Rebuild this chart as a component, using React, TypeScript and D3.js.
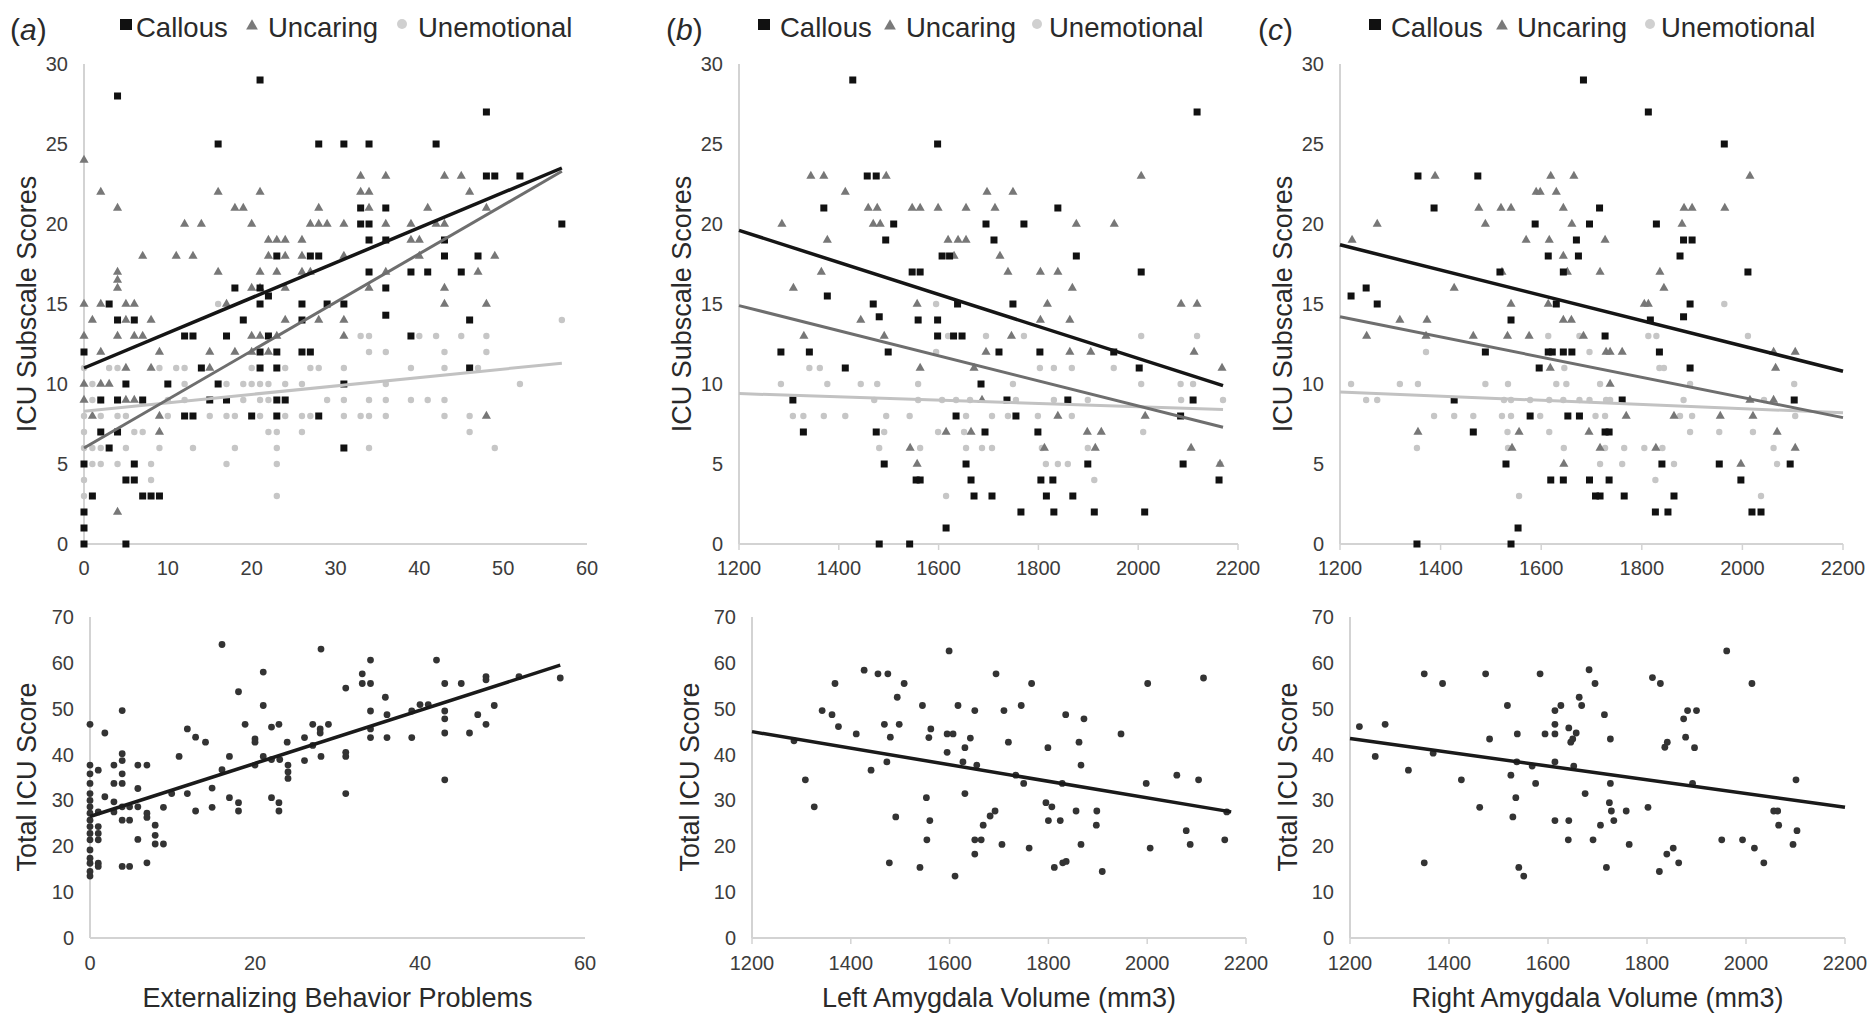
import * as d3 from 'd3';

const W = 1872;
const H = 1030;
const FONT = '"Liberation Sans", Arial, Helvetica, sans-serif';

type Pt = [number, number];

// tick labels
const extTicksTop = [0, 10, 20, 30, 40, 50, 60];
const extTicksBottom = [0, 20, 40, 60];
const volTicks = [1200, 1400, 1600, 1800, 2000, 2200];
const subscaleTicks = [0, 5, 10, 15, 20, 25, 30];
const totalTicks = [0, 10, 20, 30, 40, 50, 60, 70];

const seriesNames = ['Callous', 'Uncaring', 'Unemotional'];

// (a) externalizing vs subscales
const extCallous: Pt[] = [
  [4, 28], [21, 29], [48, 27], [16, 25], [28, 25], [31, 25], [34, 25], [42, 25], [48, 23], [49, 23],
  [52, 23], [57, 20], [33, 21], [36, 21], [33, 20], [34, 20], [34, 19], [36, 19], [43, 19], [43, 18],
  [47, 18], [23, 18], [27, 18], [28, 18], [34, 17], [39, 17], [41, 17], [45, 17], [18, 16], [21, 16],
  [36, 16], [22, 15.5], [3, 15], [21, 15], [26, 15], [29, 15], [31, 15], [4, 14], [6, 14], [19, 14],
  [26, 14], [36, 14.3], [46, 14], [12, 13], [13, 13], [17, 13], [22, 13], [39, 13], [0, 12], [21, 12],
  [23, 12], [26, 12], [27, 12], [14, 11], [21, 11], [23, 11], [46, 11], [5, 10], [10, 10], [16, 10],
  [31, 10], [2, 9], [4, 9], [7, 9], [15, 9], [17, 9], [23, 9], [24, 9], [12, 8], [13, 8], [20, 8],
  [23, 8], [28, 8], [2, 7], [4, 7], [3, 6], [31, 6], [0, 5], [6, 5], [5, 4], [6, 4], [1, 3], [7, 3],
  [8, 3], [9, 3], [0, 2], [0, 1], [0, 0], [5, 0],
];
const extUncaring: Pt[] = [
  [0, 24], [2, 22], [16, 22], [21, 22], [46, 22], [33, 23], [36, 23], [43, 23], [45, 23], [33, 22],
  [34, 22], [4, 21], [18, 21], [19, 21], [28, 21], [34, 21], [41, 21], [48, 21], [12, 20], [14, 20],
  [20, 20], [27, 20], [28, 20], [29, 20], [31, 20], [36, 20], [39, 20], [42, 20], [43, 20], [22, 19],
  [23, 19], [24, 19], [26, 19], [39, 19], [40, 19], [7, 18], [11, 18], [13, 18], [22, 18], [24, 18],
  [26, 18], [31, 18], [40, 18], [49, 18], [16, 17], [21, 17], [23, 17], [26, 17], [27, 17], [36, 17],
  [47, 17], [4, 17], [4, 16.5], [4, 16], [20, 16], [21, 16], [24, 16], [34, 16], [43, 16], [0, 15],
  [2, 15], [5, 15], [6, 15], [17, 15], [43, 15], [48, 15], [1, 14], [5, 14], [8, 14], [24, 14], [28, 14],
  [31, 14], [0, 13], [4, 13], [6, 13], [7, 13], [20, 13], [21, 13], [23, 13], [31, 13], [2, 12], [9, 12],
  [15, 12], [18, 12], [20, 12], [22, 12], [5, 11], [8, 11], [15, 11], [0, 10], [2, 10], [3, 10], [5, 9],
  [6, 9], [0, 9], [1, 8], [9, 8], [48, 8], [9, 7], [4, 2],
];
const extUnemotional: Pt[] = [
  [57, 14], [16, 15], [33, 13], [34, 13], [40, 13], [42, 13], [45, 13], [48, 13], [34, 12], [36, 12],
  [43, 12], [48, 12], [9, 11], [11, 11], [12, 11], [20, 11], [24, 11], [27, 11], [28, 11], [31, 11],
  [39, 11], [43, 11], [47, 11], [0, 11], [3, 11], [4, 11], [1, 10], [12, 10], [17, 10], [19, 10],
  [20, 10], [21, 10], [22, 10], [24, 10], [26, 10], [36, 10], [52, 10], [10, 9], [12, 9], [19, 9],
  [21, 9], [22, 9], [29, 9], [31, 9], [34, 9], [36, 9], [39, 9], [41, 9], [43, 9], [1, 9], [2, 9],
  [0, 8], [2, 8], [4, 8], [5, 8], [10, 8], [15, 8], [17, 8], [18, 8], [21, 8], [24, 8], [26, 8], [27, 8],
  [31, 8], [33, 8], [34, 8], [36, 8], [43, 8], [46, 8], [0, 7], [6, 7], [7, 7], [22, 7], [23, 7], [26, 7],
  [46, 7], [0, 6], [1, 6], [2, 6], [5, 6], [9, 6], [13, 6], [18, 6], [23, 6], [34, 6], [49, 6], [1, 5],
  [2, 5], [4, 5], [8, 5], [17, 5], [23, 5], [0, 4], [8, 4], [0, 3], [23, 3],
];
const extTotal: Pt[] = [
  [16, 64], [28, 63], [21, 58], [34, 60.6], [42, 60.6], [33, 57.6], [33, 55.5], [34, 55.5], [43, 55.5],
  [45, 55.5], [48, 57], [48, 56.3], [52, 57], [57, 56.7], [18, 53.7], [31, 54.5], [21, 50.7], [35.8, 52.5],
  [34, 49.5], [36, 48.7], [39, 49.5], [40, 50.9], [41, 50.9], [43, 49.5], [43, 47.8], [47, 48.7], [49, 50.7],
  [48, 46.6], [46, 44.7], [43, 44.7], [34, 45.6], [34, 43.7], [36, 43.7], [39, 43.7], [43, 34.5], [0, 46.6],
  [3.9, 49.6], [1.8, 44.7], [11.8, 45.6], [12.8, 43.8], [14, 42.7], [18.8, 46.6], [20, 43.4], [20, 42.7],
  [22, 46], [22.9, 46.6], [23.9, 42.7], [27, 46.6], [27.9, 45.6], [27.9, 44.7], [28.9, 46.6], [26, 43.7],
  [27, 42], [10.8, 39.6], [16.9, 39.6], [20, 37.7], [21, 39.6], [22, 38.9], [23, 38.9], [24, 37.7],
  [24, 36.2], [24, 34.8], [26, 38.7], [28, 39.6], [31, 40.5], [31, 39.6], [16, 36.7], [14.8, 32.7],
  [11.8, 31.5], [9.9, 31.5], [31, 31.5], [0, 37.7], [0, 35.8], [0, 33.7], [1, 36.6], [2.9, 37.7],
  [3.9, 40.2], [3.9, 38.7], [3.9, 35.8], [2.9, 33.7], [3.9, 33.7], [5.8, 37.7], [6.9, 37.7], [5.8, 32.6],
  [1.8, 30.8], [0, 31.5], [0, 30], [0, 28.6], [2.9, 29.7], [3.9, 28.6], [1, 27.5], [2.9, 27.5], [4.8, 28.6],
  [5.8, 28.6], [3.9, 25.7], [4.8, 25.7], [6.9, 27.2], [6.9, 26.3], [8.9, 28.5], [12.8, 27.7], [14.8, 28.5],
  [16.9, 30.6], [18, 29.5], [18, 27.7], [22, 30.6], [22.9, 29.5], [22.9, 27.7], [7.9, 24.6], [7.9, 22.4],
  [8.9, 20.5], [7.9, 20.5], [5.8, 21.5], [0, 25.7], [0, 24.3], [0, 22.8], [0, 21.4], [0, 19.2], [0, 17.4],
  [1, 24.3], [1, 22.8], [1, 21.4], [0, 16.3], [1, 16.3], [1, 15.6], [0, 14.5], [0, 13.5], [3.9, 15.6],
  [4.8, 15.6], [6.9, 16.4], [0, 27.2],
];

// (b) left amygdala
const leftCallous: Pt[] = [
  [1428, 29], [2118, 27], [1598, 25], [1457, 23], [1475, 23], [1370, 21], [1839, 21], [1510, 20], [1695, 20],
  [1771, 20], [1494, 19], [1711, 19], [1607, 18], [1622, 18], [1876, 18], [1547, 17], [1563, 17], [2006, 17],
  [1377, 15.5], [1469, 15], [1638, 15], [1749, 15], [1481, 14.2], [1559, 14], [1598, 14], [1598, 13],
  [1630, 13], [1647, 13], [1284, 12], [1341, 12], [1499, 12], [1721, 12], [1803, 12], [1951, 12], [1413, 11],
  [2002, 11], [1685, 10], [1308, 9], [1737, 9], [1859, 9], [2110, 9], [1635, 8], [1755, 8], [2085, 8],
  [1329, 7], [1475, 7], [1693, 7], [1799, 7], [1491, 5], [1655, 5], [1899, 5], [2090, 5], [1555, 4],
  [1563, 4], [1665, 4], [1805, 4], [1829, 4], [2162, 4], [1671, 3], [1707, 3], [1816, 3], [1869, 3],
  [1765, 2], [1831, 2], [1912, 2], [2013, 2], [1615, 1], [1481, 0], [1542, 0],
];
const leftUncaring: Pt[] = [
  [1344, 23], [1370, 23], [1495, 23], [2006, 23], [1413, 22], [1697, 22], [1749, 22], [1459, 21], [1477, 21],
  [1547, 21], [1563, 21], [1599, 21], [1655, 21], [1713, 21], [1286, 20], [1469, 20], [1483, 20], [1876, 20],
  [1952, 20], [1377, 19], [1619, 19], [1639, 19], [1655, 19], [1631, 18], [1723, 18], [1365, 17], [1739, 17],
  [1804, 17], [1839, 17], [1309, 16], [1868, 16], [1557, 15], [1818, 15], [2086, 15], [2118, 15], [1444, 14],
  [1804, 14], [1863, 14], [1330, 13], [1491, 13], [1746, 13], [1695, 12], [1863, 12], [1905, 12], [2112, 12],
  [1563, 11], [1671, 11], [2168, 11], [1687, 9], [1839, 8], [2014, 8], [1615, 7], [1665, 7], [1898, 7],
  [1926, 7], [1543, 6], [1812, 6], [1914, 6], [2106, 6], [1557, 5], [2164, 5],
];
const leftUnemotional: Pt[] = [
  [2006, 13], [2118, 13], [1595, 15], [1695, 13], [1771, 13], [1619, 13], [1595, 12], [1341, 11], [1362, 11],
  [1803, 11], [1831, 11], [1867, 11], [1951, 11], [1284, 10], [1377, 10], [1444, 10], [1477, 10], [1559, 10],
  [1749, 10], [2006, 10], [2085, 10], [2110, 10], [1471, 9], [1559, 9], [1607, 9], [1635, 9], [1663, 9],
  [1755, 9], [1831, 9], [1899, 9], [2086, 9], [2170, 9], [1308, 8], [1329, 8], [1370, 8], [1413, 8],
  [1495, 8], [1542, 8], [1655, 8], [1707, 8], [1739, 8], [1799, 8], [1867, 8], [1491, 7], [1599, 7],
  [1651, 7], [2010, 7], [1481, 6], [1563, 6], [1655, 6], [1687, 6], [1707, 6], [1807, 6], [1899, 6],
  [1815, 5], [1839, 5], [1859, 5], [2164, 5], [1912, 4], [1615, 3],
];
const leftTotal: Pt[] = [
  [1599, 62.6], [1427, 58.4], [1455, 57.6], [1475, 57.6], [1694, 57.6], [1368, 55.5], [1508, 55.5],
  [1766, 55.5], [2001, 55.5], [2114, 56.7], [1494, 52.5], [1545, 50.7], [1617, 50.7], [1745, 50.7],
  [1342, 49.6], [1362, 48.7], [1651, 49.6], [1710, 49.6], [1835, 48.7], [1872, 47.8], [1375, 46.1],
  [1468, 46.6], [1498, 46.6], [1562, 45.6], [1411, 44.5], [1595, 44.5], [1607, 44.5], [1947, 44.5],
  [1480, 43.8], [1558, 43.7], [1642, 43.6], [1719, 42.7], [1862, 42.7], [1285, 43], [1631, 41.5],
  [1799, 41.5], [1595, 40.5], [1473, 38.4], [1627, 38.4], [1655, 37.7], [1866, 37.7], [1441, 36.6],
  [1734, 35.5], [2060, 35.5], [2104, 34.5], [1308, 34.5], [1750, 33.7], [1828, 33.7], [1998, 33.7],
  [1631, 31.5], [1326, 28.6], [1553, 30.6], [1795, 29.5], [1807, 28.6], [1692, 27.7], [1682, 26.6],
  [1856, 27.7], [1898, 27.7], [1491, 26.4], [1560, 25.6], [1800, 25.6], [1824, 25.6], [1668, 24.6],
  [1897, 24.6], [2079, 23.4], [1554, 21.4], [1651, 21.4], [1664, 21.4], [2157, 21.4], [1706, 20.4],
  [1866, 20.4], [2087, 20.4], [1761, 19.6], [2006, 19.6], [1651, 18.3], [1478, 16.4], [1829, 16.4],
  [1836, 16.7], [1540, 15.4], [1812, 15.4], [1909, 14.5], [1611, 13.5], [2161, 27.5],
];

// (c) right amygdala
const rightCallous: Pt[] = [
  [1684, 29], [1813, 27], [1964, 25], [1355, 23], [1474, 23], [1387, 21], [1716, 21], [1588, 20], [1696, 20],
  [1829, 20], [1670, 19], [1883, 19], [1900, 19], [1614, 18], [1674, 18], [1876, 18], [1518, 17], [1644, 17],
  [2011, 17], [1252, 16], [1222, 15.5], [1274, 15], [1630, 15], [1896, 15], [1540, 14], [1817, 14],
  [1883, 14.2], [1727, 13], [1489, 12], [1614, 12], [1622, 12], [1644, 12], [1661, 12], [1835, 12],
  [1596, 11], [1896, 11], [1427, 9], [1761, 9], [2103, 9], [1578, 8], [1653, 8], [1676, 8], [1465, 7],
  [1727, 7], [1735, 7], [1530, 5], [1840, 5], [1954, 5], [2095, 5], [1619, 4], [1644, 4], [1696, 4],
  [1735, 4], [1997, 4], [1708, 3], [1717, 3], [1765, 3], [1864, 3], [1827, 2], [1852, 2], [2019, 2],
  [2037, 2], [1554, 1], [1353, 0], [1540, 0],
];
const rightUncaring: Pt[] = [
  [1389, 23], [1619, 23], [1665, 23], [2015, 23], [1590, 22], [1598, 22], [1630, 22], [1476, 21], [1520, 21],
  [1540, 21], [1644, 21], [1884, 21], [1900, 21], [1965, 21], [1274, 20], [1489, 20], [1661, 20], [1880, 20],
  [1224, 19], [1570, 19], [1616, 19], [1727, 19], [1644, 18], [1522, 17], [1652, 17], [1717, 17], [1836, 17],
  [1427, 16], [1844, 16], [1540, 15], [1614, 15], [1805, 15], [1813, 15], [1319, 14], [1373, 14], [1644, 14],
  [1660, 14], [1253, 13], [1371, 13], [1465, 13], [1533, 13], [1576, 13], [1684, 13], [1729, 12], [1737, 12],
  [1761, 12], [2062, 12], [2105, 12], [1618, 11], [2066, 11], [1737, 10], [2015, 9], [2062, 9], [1769, 8],
  [1864, 8], [1956, 8], [2021, 8], [1355, 7], [1556, 7], [1695, 7], [2069, 7], [1542, 6], [1717, 6],
  [1828, 6], [2105, 6], [1645, 5], [1997, 5],
];
const rightUnemotional: Pt[] = [
  [1964, 15], [1813, 13], [1829, 13], [2011, 13], [1614, 13], [1676, 13], [1371, 12], [1696, 12], [1646, 11],
  [1835, 11], [1844, 11], [1222, 10], [1319, 10], [1355, 10], [1489, 10], [1534, 10], [1630, 10], [1650, 10],
  [1717, 10], [1896, 10], [2103, 10], [1252, 9], [1274, 9], [1526, 9], [1540, 9], [1578, 9], [1616, 9],
  [1644, 9], [1676, 9], [1696, 9], [1729, 9], [1737, 9], [1883, 9], [2043, 9], [1387, 8], [1427, 8],
  [1465, 8], [1522, 8], [1540, 8], [1598, 8], [1708, 8], [1727, 8], [1876, 8], [1900, 8], [2105, 8],
  [1533, 7], [1616, 7], [1896, 7], [1954, 7], [2021, 7], [1353, 6], [1534, 6], [1645, 6], [1727, 6],
  [1765, 6], [1805, 6], [1841, 6], [2062, 6], [1717, 5], [1761, 5], [1864, 5], [2069, 5], [1827, 4],
  [1556, 3], [2037, 3],
];
const rightTotal: Pt[] = [
  [1961, 62.6], [1683, 58.5], [1350, 57.6], [1474, 57.6], [1584, 57.6], [1387, 55.5], [1695, 55.5],
  [2012, 55.5], [1811, 56.8], [1827, 55.5], [1663, 52.5], [1668, 50.7], [1518, 50.7], [1626, 50.7],
  [1614, 49.6], [1714, 48.7], [1882, 49.6], [1900, 49.6], [1219, 46.1], [1271, 46.6], [1614, 46.6],
  [1874, 47.8], [1642, 45.8], [1538, 44.5], [1594, 44.5], [1614, 44.5], [1657, 44.7], [1482, 43.4],
  [1726, 43.4], [1878, 43.8], [1646, 42.7], [1650, 43.4], [1841, 42.7], [1836, 41.6], [1896, 41.5],
  [1251, 39.6], [1368, 40.3], [1537, 38.4], [1614, 38.4], [1568, 37.5], [1652, 37.5], [1318, 36.6],
  [1525, 35.5], [1425, 34.5], [2101, 34.5], [1575, 33.7], [1726, 33.7], [1892, 33.7], [1675, 31.5],
  [1535, 30.6], [1724, 29.5], [1462, 28.5], [1802, 28.5], [1728, 27.7], [1758, 27.7], [2056, 27.7],
  [2064, 27.7], [1529, 26.4], [1614, 25.6], [1642, 25.6], [1733, 25.6], [1706, 24.6], [2066, 24.6],
  [2103, 23.4], [1641, 21.4], [1691, 21.4], [1951, 21.4], [1993, 21.4], [1764, 20.4], [2095, 20.4],
  [2017, 19.6], [1853, 19.6], [1840, 18.3], [1350, 16.4], [1864, 16.4], [2036, 16.4], [1541, 15.4],
  [1718, 15.4], [1551, 13.5], [1825, 14.5],
];

// fitted lines: [start, end] for Callous, Uncaring, Unemotional
const extTrends: Pt[][] = [[[0, 11], [57, 23.5]], [[0, 6], [57, 23.3]], [[0, 8.3], [57, 11.3]]];
const leftTrends: Pt[][] = [[[1200, 19.6], [2170, 9.9]], [[1200, 14.9], [2170, 7.3]], [[1200, 9.4], [2170, 8.4]]];
const rightTrends: Pt[][] = [[[1200, 18.7], [2200, 10.8]], [[1200, 14.2], [2200, 7.9]], [[1200, 9.5], [2200, 8.2]]];
const extTotalTrend: Pt[] = [[0, 26.5], [57, 59.5]];
const leftTotalTrend: Pt[] = [[1200, 45], [2170, 27.5]];
const rightTotalTrend: Pt[] = [[1200, 43.5], [2200, 28.5]];

const AXIS = '#d3d3d3';
const TICK_TEXT = '#3c3c3c';
const TITLE_TEXT = '#2a2a2a';
const LINE_COLORS = ['#151515', '#6e6e6e', '#c2c2c2'];

const triPath = d3.symbol().type(d3.symbolTriangle).size(36)() as string;
const legendTri = d3.symbol().type(d3.symbolTriangle).size(60)() as string;

type Scale = d3.ScaleLinear<number, number>;

function Axes({ x, y, xTicks, yTicks, labelY, tickMarks }:
  { x: Scale; y: Scale; xTicks: number[]; yTicks: number[]; labelY: number; tickMarks: boolean }) {
  const [x0, x1] = x.range();
  const [y0, y1] = y.range();
  return (
    <g fontFamily={FONT}>
      <line x1={x0} x2={x0} y1={y0} y2={y1} stroke={AXIS} strokeWidth={2} />
      <line x1={x0} x2={x1} y1={y0} y2={y0} stroke={AXIS} strokeWidth={2} />
      {tickMarks && xTicks.map((t) => (
        <line key={'m' + t} x1={x(t)} x2={x(t)} y1={y0} y2={y0 + 6} stroke={AXIS} strokeWidth={1.5} />
      ))}
      {yTicks.map((t) => (
        <text key={'y' + t} x={x0 - 16} y={y(t)} dy="0.35em" textAnchor="end" fontSize={20} fill={TICK_TEXT}>{t}</text>
      ))}
      {xTicks.map((t) => (
        <text key={'x' + t} x={x(t)} y={labelY} textAnchor="middle" fontSize={20} fill={TICK_TEXT}>{t}</text>
      ))}
    </g>
  );
}

function YTitle({ x, y, text }: { x: number; y: number; text: string }) {
  return (
    <text transform={`translate(${x},${y}) rotate(-90)`} textAnchor="middle" dy="0.35em"
      fontFamily={FONT} fontSize={27} fill={TITLE_TEXT}>{text}</text>
  );
}

function Legend({ letter, lx, marks }: { letter: string; lx: number; marks: number[] }) {
  // marks: [squareX, calloustextX, triX, uncaringTextX, dotX, unemotionalTextX]
  return (
    <g fontFamily={FONT} fill={TITLE_TEXT}>
      <text x={lx} y={40} fontSize={30}>(<tspan fontStyle="italic">{letter}</tspan>)</text>
      <rect x={marks[0] - 6} y={19} width={12} height={11} fill="#111" />
      <text x={marks[1]} y={37} fontSize={27.5}>{seriesNames[0]}</text>
      <path d={legendTri} transform={`translate(${marks[2]},26)`} fill="#7a7a7a" />
      <text x={marks[3]} y={37} fontSize={27.5}>{seriesNames[1]}</text>
      <circle cx={marks[4]} cy={24} r={5} fill="#d0d0d0" />
      <text x={marks[5]} y={37} fontSize={27.5}>{seriesNames[2]}</text>
    </g>
  );
}

function SubscalePanel({ x, y, callous, uncaring, unemotional, trends, tickMarks, xTicks }:
  { x: Scale; y: Scale; callous: Pt[]; uncaring: Pt[]; unemotional: Pt[]; trends: Pt[][]; tickMarks: boolean; xTicks: number[] }) {
  const line = d3.line<Pt>().x((d) => x(d[0])).y((d) => y(d[1]));
  return (
    <g>
      <Axes x={x} y={y} xTicks={xTicks} yTicks={subscaleTicks} labelY={575} tickMarks={tickMarks} />
      {unemotional.map((d, i) => (
        <circle key={'e' + i} cx={x(d[0])} cy={y(d[1])} r={3.2} fill="#c6c6c6" />
      ))}
      {uncaring.map((d, i) => (
        <path key={'u' + i} d={triPath} transform={`translate(${x(d[0])},${y(d[1])})`} fill="#777" />
      ))}
      {callous.map((d, i) => (
        <rect key={'c' + i} x={x(d[0]) - 3.5} y={y(d[1]) - 3.5} width={7} height={7} fill="#111" />
      ))}
      {[2, 1, 0].map((k) => (
        <path key={'t' + k} d={line(trends[k]) as string} fill="none" stroke={LINE_COLORS[k]} strokeWidth={k === 0 ? 3.5 : 3} />
      ))}
    </g>
  );
}

function TotalPanel({ x, y, points, trend, tickMarks, xTicks, title }:
  { x: Scale; y: Scale; points: Pt[]; trend: Pt[]; tickMarks: boolean; xTicks: number[]; title: string }) {
  const line = d3.line<Pt>().x((d) => x(d[0])).y((d) => y(d[1]));
  const [x0, x1] = x.range();
  return (
    <g>
      <Axes x={x} y={y} xTicks={xTicks} yTicks={totalTicks} labelY={970} tickMarks={tickMarks} />
      {points.map((d, i) => (
        <circle key={i} cx={x(d[0])} cy={y(d[1])} r={3.4} fill="#333" />
      ))}
      <path d={line(trend) as string} fill="none" stroke="#1a1a1a" strokeWidth={3.5} />
      <text x={(x0 + x1) / 2} y={1007} textAnchor="middle" fontFamily={FONT} fontSize={27} fill={TITLE_TEXT}>{title}</text>
    </g>
  );
}

export default function App() {
  const ySub = d3.scaleLinear().domain([0, 30]).range([544, 64]);
  const yTot = d3.scaleLinear().domain([0, 70]).range([938, 617]);

  const xA = d3.scaleLinear().domain([0, 60]).range([84, 587]);
  const xB = d3.scaleLinear().domain([1200, 2200]).range([739, 1238]);
  const xC = d3.scaleLinear().domain([1200, 2200]).range([1340, 1843]);
  const xA2 = d3.scaleLinear().domain([0, 60]).range([90, 585]);
  const xB2 = d3.scaleLinear().domain([1200, 2200]).range([752, 1246]);
  const xC2 = d3.scaleLinear().domain([1200, 2200]).range([1350, 1845]);

  return (
    <svg width={W} height={H} viewBox={`0 0 ${W} ${H}`}
      style={{ position: 'absolute', left: 0, top: 0, background: '#fff' }}>
      <rect width={W} height={H} fill="#fff" />

      <Legend letter="a" lx={10} marks={[126, 136, 252, 268, 402, 418]} />
      <Legend letter="b" lx={666} marks={[764, 780, 890, 906, 1037, 1049]} />
      <Legend letter="c" lx={1258} marks={[1375, 1391, 1502, 1517, 1650, 1661]} />

      <SubscalePanel x={xA} y={ySub} callous={extCallous} uncaring={extUncaring} unemotional={extUnemotional}
        trends={extTrends} tickMarks={false} xTicks={extTicksTop} />
      <SubscalePanel x={xB} y={ySub} callous={leftCallous} uncaring={leftUncaring} unemotional={leftUnemotional}
        trends={leftTrends} tickMarks xTicks={volTicks} />
      <SubscalePanel x={xC} y={ySub} callous={rightCallous} uncaring={rightUncaring} unemotional={rightUnemotional}
        trends={rightTrends} tickMarks xTicks={volTicks} />

      <YTitle x={27} y={304} text="ICU Subscale Scores" />
      <YTitle x={682} y={304} text="ICU Subscale Scores" />
      <YTitle x={1283} y={304} text="ICU Subscale Scores" />

      <TotalPanel x={xA2} y={yTot} points={extTotal} trend={extTotalTrend} tickMarks={false}
        xTicks={extTicksBottom} title="Externalizing Behavior Problems" />
      <TotalPanel x={xB2} y={yTot} points={leftTotal} trend={leftTotalTrend} tickMarks
        xTicks={volTicks} title="Left Amygdala Volume (mm3)" />
      <TotalPanel x={xC2} y={yTot} points={rightTotal} trend={rightTotalTrend} tickMarks
        xTicks={volTicks} title="Right Amygdala Volume (mm3)" />

      <YTitle x={27} y={777} text="Total ICU Score" />
      <YTitle x={690} y={777} text="Total ICU Score" />
      <YTitle x={1288} y={777} text="Total ICU Score" />
    </svg>
  );
}
